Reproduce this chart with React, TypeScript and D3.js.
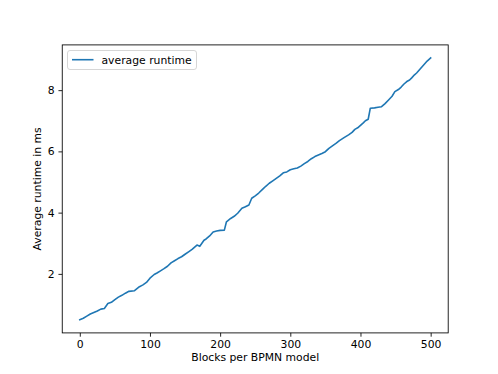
import React, { useEffect, useRef } from "react";
import * as d3 from "d3";

const blocks = [
  0, 5, 10, 15, 20, 25, 30, 35, 40, 45, 50, 55, 60, 65, 70, 78, 85, 90, 95, 100,
  106, 110, 115, 120, 125, 130, 135, 140, 145, 150, 155, 160, 167, 171, 177, 180,
  185, 190, 195, 200, 206, 209, 215, 220, 225, 231, 236, 241, 245, 250, 255, 260,
  265, 270, 275, 280, 285, 290, 295, 300, 305, 310, 315, 320, 325, 330, 335, 340,
  345, 350, 355, 360, 365, 370, 376, 383, 388, 392, 396, 400, 404, 407, 411, 414,
  420, 425, 430, 435, 440, 445, 449, 454, 458, 462, 466, 470, 473, 477, 480, 485,
  490, 495, 500,
];
const runtime = [
  0.5, 0.55, 0.62, 0.69, 0.74, 0.79, 0.85, 0.87, 1.03, 1.07, 1.16, 1.24, 1.3,
  1.37, 1.43, 1.45, 1.58, 1.64, 1.72, 1.86, 1.98, 2.03, 2.1, 2.17, 2.25, 2.36,
  2.43, 2.5, 2.56, 2.64, 2.72, 2.8, 2.94, 2.9, 3.1, 3.14, 3.24, 3.37, 3.4, 3.42,
  3.43, 3.7, 3.81, 3.88, 3.98, 4.14, 4.19, 4.25, 4.47, 4.55, 4.64, 4.75, 4.86,
  4.96, 5.04, 5.12, 5.2, 5.3, 5.33, 5.4, 5.43, 5.46, 5.52, 5.6, 5.67, 5.76, 5.83,
  5.88, 5.93, 5.99, 6.1, 6.18, 6.26, 6.35, 6.44, 6.54, 6.62, 6.72, 6.77, 6.85,
  6.93, 7.0, 7.05, 7.41, 7.42, 7.44, 7.46, 7.56, 7.68, 7.8, 7.95, 8.02, 8.1, 8.2,
  8.28, 8.33, 8.4, 8.5, 8.56, 8.69, 8.82, 8.95, 9.05,
];
const xTicks = [0, 100, 200, 300, 400, 500];
const yTicks = [2, 4, 6, 8];
const seriesName = "average runtime";

const App = () => {
  const svgRef = useRef<SVGSVGElement>(null);

  useEffect(() => {
    const w = 498;
    const h = 374;
    const m = { left: 62.25, right: 448.2, top: 44.9, bottom: 332.9 };
    const font = "DejaVu Sans, sans-serif";
    const color = "#1f77b4";

    const svg = d3.select(svgRef.current).attr("width", w).attr("height", h);
    svg.selectAll("*").remove();
    svg.append("rect").attr("width", w).attr("height", h).attr("fill", "#fff");

    const xMin = d3.min(blocks)!;
    const xMax = d3.max(blocks)!;
    const yMin = d3.min(runtime)!;
    const yMax = d3.max(runtime)!;
    const xPad = (xMax - xMin) * 0.05;
    const yPad = (yMax - yMin) * 0.05;

    const xScale = d3
      .scaleLinear()
      .domain([xMin - xPad, xMax + xPad])
      .range([m.left, m.right]);
    const yScale = d3
      .scaleLinear()
      .domain([yMin - yPad, yMax + yPad])
      .range([m.bottom, m.top]);

    const line = d3
      .line<number>()
      .x((d, i) => xScale(blocks[i]))
      .y((d) => yScale(d));

    svg
      .append("path")
      .datum(runtime)
      .attr("d", line)
      .attr("fill", "none")
      .attr("stroke", color)
      .attr("stroke-width", 1.6)
      .attr("stroke-linejoin", "round")
      .attr("stroke-linecap", "square");

    const xAxis = d3
      .axisBottom(xScale)
      .tickValues(xTicks)
      .tickSize(3.8)
      .tickPadding(3.8)
      .tickFormat(d3.format("d"));
    const yAxis = d3
      .axisLeft(yScale)
      .tickValues(yTicks)
      .tickSize(3.8)
      .tickPadding(3.8)
      .tickFormat(d3.format("d"));

    const gx = svg
      .append("g")
      .attr("transform", `translate(0,${m.bottom})`)
      .call(xAxis);
    const gy = svg
      .append("g")
      .attr("transform", `translate(${m.left},0)`)
      .call(yAxis);
    [gx, gy].forEach((g) => {
      g.select(".domain").remove();
      g.selectAll("line").attr("stroke", "#000").attr("stroke-width", 0.86);
      g.selectAll("text")
        .attr("font-family", font)
        .attr("font-size", 10.8)
        .attr("fill", "#000");
    });

    // frame
    svg
      .append("rect")
      .attr("x", m.left)
      .attr("y", m.top)
      .attr("width", m.right - m.left)
      .attr("height", m.bottom - m.top)
      .attr("fill", "none")
      .attr("stroke", "#000")
      .attr("stroke-width", 0.86);

    svg
      .append("text")
      .attr("x", (m.left + m.right) / 2)
      .attr("y", 361)
      .attr("text-anchor", "middle")
      .attr("font-family", font)
      .attr("font-size", 10.8)
      .text("Blocks per BPMN model");

    svg
      .append("text")
      .attr("transform", `translate(41,${(m.top + m.bottom) / 2}) rotate(-90)`)
      .attr("text-anchor", "middle")
      .attr("font-family", font)
      .attr("font-size", 10.8)
      .text("Average runtime in ms");

    // legend
    const lg = svg.append("g").attr("transform", `translate(67.5,50.5)`);
    lg.append("rect")
      .attr("width", 129)
      .attr("height", 19)
      .attr("rx", 2.5)
      .attr("fill", "#fff")
      .attr("fill-opacity", 0.8)
      .attr("stroke", "#ccc")
      .attr("stroke-width", 0.8);
    lg.append("line")
      .attr("x1", 4.5)
      .attr("x2", 26)
      .attr("y1", 9.2)
      .attr("y2", 9.2)
      .attr("stroke", color)
      .attr("stroke-width", 1.6);
    lg.append("text")
      .attr("x", 34)
      .attr("y", 13.2)
      .attr("font-family", font)
      .attr("font-size", 10.8)
      .text(seriesName);
  }, []);

  return (
    <svg
      ref={svgRef}
      style={{ position: "absolute", left: 0, top: 0, display: "block" }}
    />
  );
};

export default App;
